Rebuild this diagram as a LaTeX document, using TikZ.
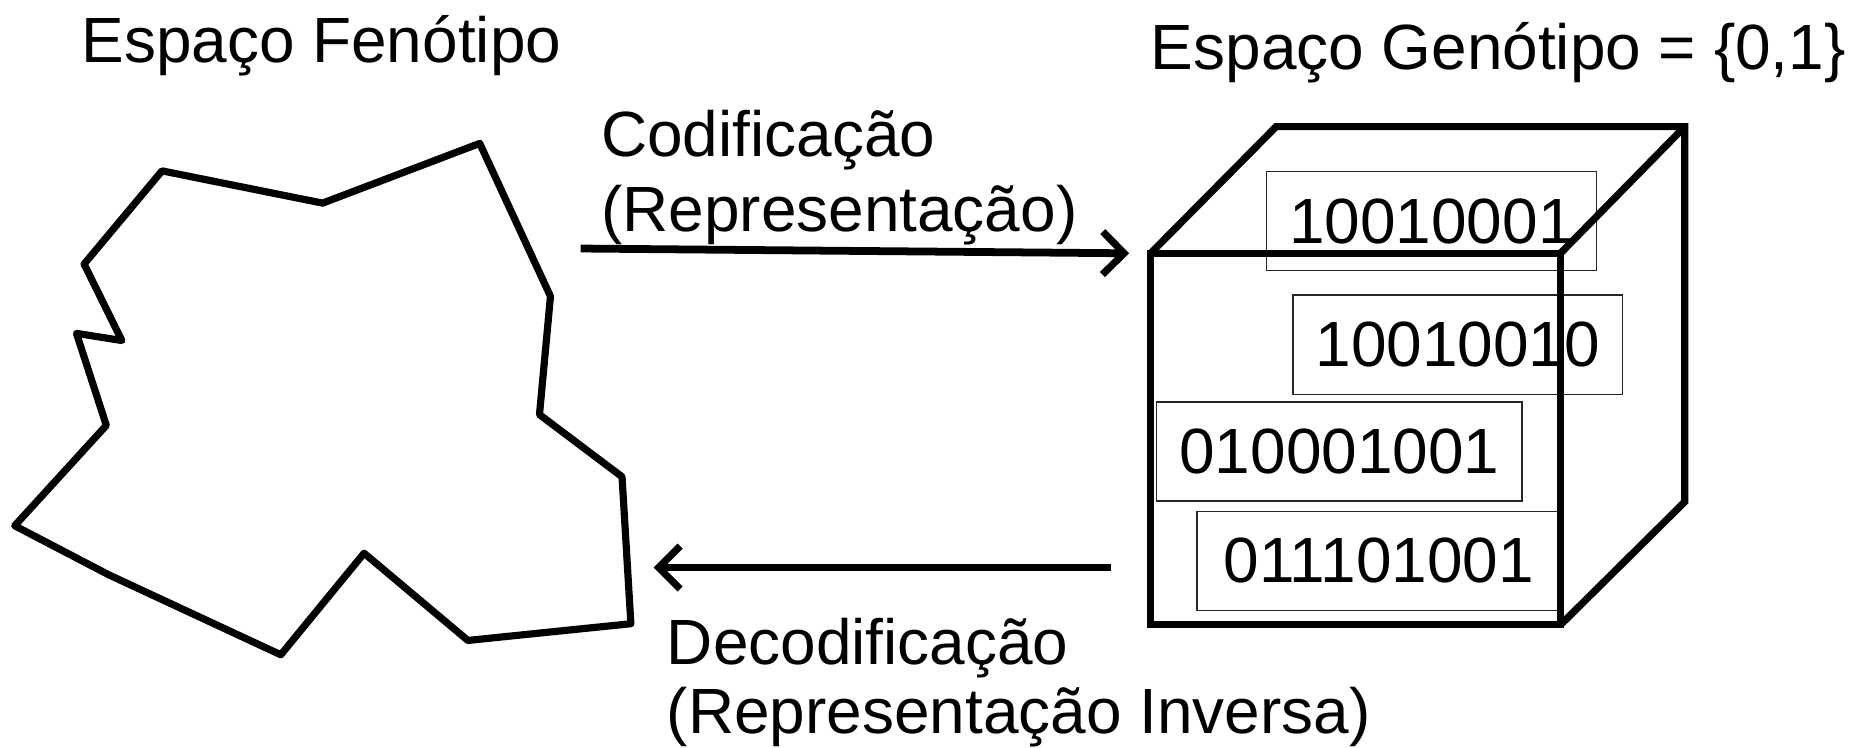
\documentclass[tikz,border=0pt]{standalone}
\usepackage{fontspec}
\setmainfont{Liberation Sans}
\usetikzlibrary{arrows.meta}
\begin{document}
\begin{tikzpicture}[x=1pt,y=-1pt,
  lbl/.style={anchor=base west, inner sep=0pt, font=\fontsize{53.5}{64}\selectfont},
  bitbox/.style={draw=black!85, line width=1.3pt, inner sep=0pt, minimum height=83pt, font=\fontsize{53.5}{64}\selectfont},
  blob/.style={line width=6pt, line join=round},
  cubeline/.style={line width=6pt, line join=miter},
  arr/.style={line width=6.5pt, -{Straight Barb[length=18pt,width=36pt,line width=6pt]}}]
\useasboundingbox (0,0) rectangle (1550,626);

% titles
\node[lbl] (fen) at (68,52) {Espaço Fenótipo};
\node[lbl] (gen) at (963,58) {Espaço Genótipo = \{0,1\}};

% phenotype polygon
\draw[blob] (135.6,143) -- (270,170) -- (401.5,120) -- (460.7,248) -- (451.5,347)
  -- (520.6,399) -- (528,522) -- (391.6,536) -- (304.7,463) -- (235,548)
  -- (90.9,481) -- (12.3,440) -- (89,356) -- (64,279) -- (102,285) -- (70.4,221) -- cycle;

% bit strings
\node[bitbox, minimum width=276pt] (b1) at (1198,185) {10010001};
\node[bitbox, minimum width=276pt] (b2) at (1220,288.5) {10010010};
\node[bitbox, minimum width=306pt] (b3) at (1121,378) {010001001};
\node[bitbox, minimum width=304pt] (b4) at (1154,469.5) {011101001};

% cube
\draw[cubeline] (963,212) rectangle (1306,523);
\draw[cubeline] (963,212) -- (1068,106) -- (1410,106) -- (1410,420) -- (1306,523);
\draw[cubeline] (1306,212) -- (1410,106);

% arrows
\coordinate (c1) at (486,208);
\coordinate (c2) at (945,212);
\coordinate (d1) at (930,475);
\coordinate (d2) at (547,475);
\draw[arr] (c1) -- (c2);
\draw[arr] (d1) -- (d2);

% arrow labels
\node[lbl] (cod1) at (503,131) {Codificação};
\node[lbl] (cod2) at (503,194) {(Representação)};
\node[lbl] (dec1) at (558,556) {Decodificação};
\node[lbl] (dec2) at (558,614) {(Representação Inversa)};
\end{tikzpicture}
\end{document}
